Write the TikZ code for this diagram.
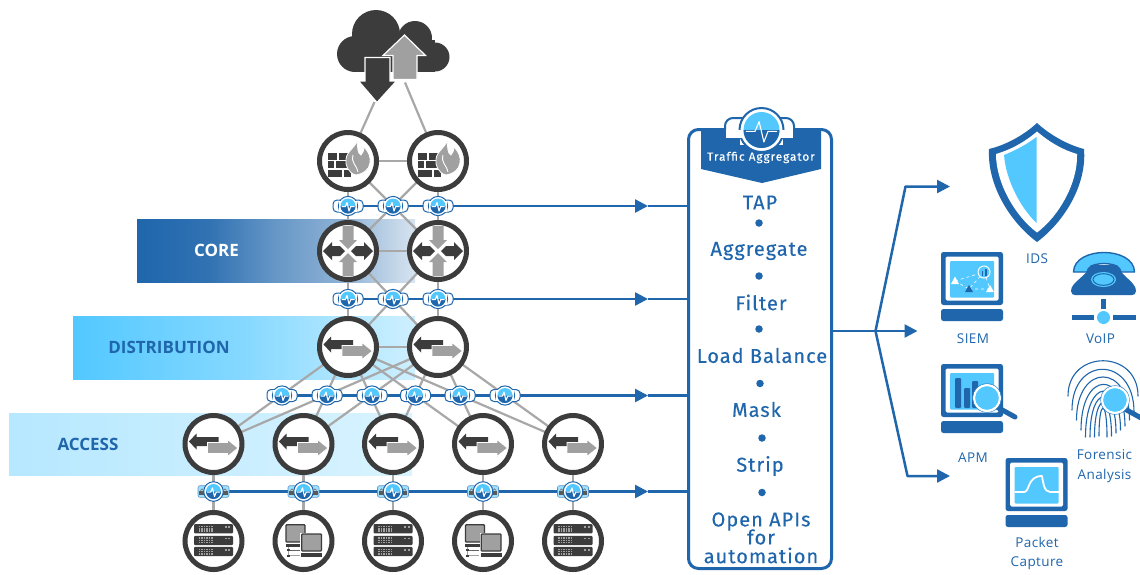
\documentclass[tikz,border=0pt]{standalone}
\usepackage{fontspec}
\usetikzlibrary{arrows.meta,backgrounds}
\newfontfamily\boxfont[LetterSpace=5,FakeBold=0.25]{Fira Sans}
\newfontfamily\hdrfont[LetterSpace=8,FakeBold=0.3]{Fira Sans}
\newfontfamily\lblfont[LetterSpace=3]{Open Sans}
\newfontfamily\tierfont{Open Sans}
\definecolor{ib}{HTML}{1F66AC}
\definecolor{il}{HTML}{52C8FF}
\definecolor{idk}{HTML}{3C3C3C}
\definecolor{igr}{HTML}{A0A0A0}
\definecolor{iln}{HTML}{A8A8A8}
\pgfdeclarehorizontalshading{coreband}{100bp}{color(0bp)=(ib); color(25bp)=(ib); color(38bp)=(ib!92!white); color(50bp)=(ib!68!white); color(62bp)=(ib!50!white); color(75bp)=(ib!18!white); color(100bp)=(ib!18!white)}
\pgfdeclarehorizontalshading{distband}{100bp}{color(0bp)=(il); color(25bp)=(il); color(50bp)=(il!70!white); color(75bp)=(il!28!white); color(100bp)=(il!28!white)}
\pgfdeclarehorizontalshading{accband}{100bp}{color(0bp)=(il!42!white); color(25bp)=(il!42!white); color(75bp)=(il!22!white); color(100bp)=(il!22!white)}
\pgfdeclarelayer{bands}\pgfdeclarelayer{edges}
\pgfsetlayers{bands,edges,main}
\tikzset{
  ring/.style={circle,draw=idk,fill=white,line width=5pt,minimum size=57pt,inner sep=0pt},
  tapbox/.style={circle,minimum size=18pt,inner sep=0pt},
  gline/.style={draw=iln,line width=2.2pt},
  gwide/.style={draw=iln,line width=2.8pt},
  bline/.style={draw=ib,line width=2.5pt},
  barrow/.style={bline,-{Triangle[length=13pt,width=13pt]}},
  steptext/.style={text=ib,font=\boxfont\fontsize{20}{21}\selectfont,inner sep=0pt,anchor=center},
  dotmark/.style={circle,fill=ib,minimum size=7.5pt,inner sep=0pt},
  lbl/.style={text=ib,font=\lblfont\fontsize{13.5}{14}\selectfont,inner sep=0pt,anchor=center},
  tier/.style={text=ib,font=\tierfont\bfseries\fontsize{17}{20}\selectfont,inner sep=0pt,anchor=center},
  swicon/.pic={
    \fill[idk] (-24.5,-2.5)--(-17,-10.5)--(-17,-7)--(5,-7)--(5,2)--(-17,2)--(-17,5.5)--cycle;
    \filldraw[igr,draw=white,line width=.8pt] (-6,-1.5)--(14,-1.5)--(14,-4.5)--(24.5,4)--(14,12.5)--(14,9.5)--(-6,9.5)--cycle;
  },
  rticon/.pic={
    \foreach \s in {1,-1}{
      \fill[igr] (0,\s*2)--(-9,\s*11)--(-5.5,\s*11)--(-5.5,\s*25)--(5.5,\s*25)--(5.5,\s*11)--(9,\s*11)--cycle;
      \fill[idk] (\s*3,0)--(\s*8,-5)--(\s*16,-5)--(\s*16,-9)--(\s*25,0)--(\s*16,9)--(\s*16,5)--(\s*8,5)--cycle;
    }
  },
  fwicon/.pic={
    \fill[idk] (-20,-8) rectangle (-11,-1.5);
    \fill[idk] (-9.5,-8) rectangle (2,-1.5);
    \fill[idk] (-20,0) rectangle (-14,7);
    \fill[idk] (-12.5,0) rectangle (3,7);
    \fill[idk] (-20,8.5) rectangle (-6,15.5);
    \fill[idk] (-4.5,8.5) rectangle (3,15.5);
    \filldraw[igr,draw=white,line width=.8pt] (8,14) .. controls (0,12) and (-3,4) .. (-2,-2) .. controls (-1,-10) and (6,-12) .. (9,-20) .. controls (10,-14) and (9,-8) .. (13,-6) .. controls (15,-8) and (16,-11) .. (16,-14) .. controls (21,-9) and (23,-3) .. (22,2) .. controls (21,9) and (15,13) .. (8,14) -- cycle;
    \draw[white,line width=.9pt] (5,-6) .. controls (3,2) and (8,3) .. (10,11);
  },
  svicon/.pic={
    \foreach \yy in {-12.2,-0.6,10.5}{
      \fill[idk,rounded corners=1pt] (-19.5,\yy-4.6) rectangle (19.5,\yy+4.6);
      \foreach \xx in {-14,-11.5,...,-1}{
        \fill[igr] (\xx-.6,\yy-3) rectangle (\xx+.6,\yy-1.6);
        \fill[igr] (\xx-.6,\yy-.7) rectangle (\xx+.6,\yy+.7);
        \fill[igr] (\xx-.6,\yy+1.6) rectangle (\xx+.6,\yy+3);
      }
      \fill[igr] (11,\yy-2.5) rectangle (13,\yy-1);
      \fill[igr] (14.5,\yy-2.5) rectangle (16.5,\yy-1);
    }
  },
  pcicon/.pic={
    \filldraw[fill=igr,draw=idk,line width=1.3pt,rounded corners=.8pt] (-17.5,-16.2) rectangle (1.5,1);
    \fill[idk] (-18,2.5) rectangle (-2,6);
    \draw[igr,line width=1pt] (-15.5,6)--(-15.5,14.5)--(-4,14.5);
    \draw[idk!60!igr,line width=1pt] (-15.5,9)--(-4,9);
    \fill[idk] (-17,8) rectangle (-14,10);
    \fill[idk] (-17,13.5) rectangle (-14,15.5);
    \fill[white] (-3.5,-8.5) rectangle (19.5,11.7);
    \filldraw[fill=igr,draw=idk,line width=1.3pt,rounded corners=.8pt] (-1.8,-7) rectangle (18,10);
    \fill[idk] (-2.5,11.7) rectangle (18.7,15.7);
  },
  corehalf/.pic={
    \fill[il] (0,0) circle[radius=7.5];
    \fill[ib] (-7.5,0) .. controls (-7.5,4.14) and (-4.14,7.5) .. (0,7.5) .. controls (4.14,7.5) and (7.5,4.14) .. (7.5,0) -- cycle;
    \draw[white,line width=1.1pt,line join=round] (-6.5,.6)--(-2.7,.6)--(-1,-3.5)--(1,5)--(2.7,.6)--(6.5,.6);
  },
  tapicon/.pic={
    \filldraw[fill=white,draw=ib,line width=1pt,rounded corners=4pt] (-15,-6) rectangle (15,6);
    \filldraw[fill=white,draw=ib,line width=1pt] (0,0) circle[radius=9.6];
    \fill[white] (-9,-5.5) rectangle (9,5.5);
    \pic {corehalf};
  },
  ltapicon/.pic={
    \filldraw[fill=il!55!white,draw=ib!70!white,line width=.6pt,rounded corners=2pt] (-15.5,-5.8) rectangle (15.5,5.8);
    \foreach \s in {-1,1}{
      \draw[idk!70!white,line width=.7pt] (\s*11.5-1.6,-1) arc[start angle=180,end angle=360,radius=1.6];
      \fill[idk!85!white] (\s*11.5-2.8,-1) rectangle (\s*11.5+2.8,3.2);
    }
    \filldraw[fill=white,draw=ib,line width=1pt] (0,0) circle[radius=9.8];
    \pic {corehalf};
  },
  screenbox/.pic={
    \fill[ib,rounded corners=2.5pt] (0,0) rectangle (62,53);
    \fill[white,rounded corners=1.5pt] (4.5,4.5) rectangle (57.5,48.5);
    \fill[il,rounded corners=1pt] (9,9) rectangle (53,45.5);
    \fill[ib,rounded corners=2.5pt] (0,57) rectangle (62,69);
  },
  lens/.pic={
    \draw[ib,line width=5pt,line cap=round] (8,8)--(28,19);
    \filldraw[fill=il,draw=white,line width=2.2pt] (0,0) circle[radius=13];
    \draw[ib!60!il,line width=.5pt] (0,0) circle[radius=14.4];
  },
}
\begin{document}
\begin{tikzpicture}[x=1pt,y=-1pt]
\useasboundingbox (0,0) rectangle (1140,574);

% bands
\begin{pgfonlayer}{bands}
\fill[white] (0,0) rectangle (1140,574);
\shade[shading=coreband] (137,219) rectangle (415,282);
\shade[shading=distband] (73,316) rectangle (415,379);
\shade[shading=accband] (9,413) rectangle (412,475);
\end{pgfonlayer}
\node[tier,text=white] (tcore) at (216.5,250) {CORE};
\node[tier] (tdist) at (169,347) {DISTRIBUTION};
\node[tier] (tacc) at (88,444) {ACCESS};

% cloud
\fill[idk] (355,54) circle[radius=18];
\fill[idk] (376,34) circle[radius=24];
\fill[idk] (415,38) circle[radius=17];
\fill[idk] (435,57) circle[radius=14.5];
\fill[idk] (355,40) rectangle (435,71.5);
\filldraw[fill=idk,draw=white,line width=1.2pt] (365,57.5)--(390,57.5)--(390,81)--(396.5,81)--(377,102.5)--(358.5,81)--(365,81)--cycle;
\filldraw[fill=igr,draw=white,line width=1.2pt] (393,79.5)--(417,79.5)--(417,55.5)--(425.5,55.5)--(404.5,35)--(383,55.5)--(393,55.5)--cycle;
\coordinate (cloudL) at (374.5,102);
\coordinate (cloudR) at (405,82.5);

% rings
\foreach \n/\x/\y/\ic in {fw1/348/161/fwicon,fw2/438/161/fwicon,rt1/348/251/rticon,rt2/438/251/rticon,ds1/348/347/swicon,ds2/438/347/swicon,ac1/213.5/444/swicon,ac2/303.5/444/swicon,ac3/393/444/swicon,ac4/483/444/swicon,ac5/573/444/swicon,sv1/213.5/541/svicon,sv2/303.5/541/pcicon,sv3/393/541/svicon,sv4/483/541/pcicon,sv5/573/541/svicon}{
  \node[ring] (\n) at (\x,\y) {};
  \pic at (\n) {\ic};
}

% taps
\foreach \n/\x/\y/\ic in {ta1/348/206/tapicon,ta2/393/206/tapicon,ta3/438/206/tapicon,tb1/348/299/tapicon,tb2/393/299/tapicon,tb3/438/299/tapicon,tc1/282/395.5/tapicon,tc2/327/395.5/tapicon,tc3/372/395.5/tapicon,tc4/415.5/395.5/tapicon,tc5/460/395.5/tapicon,tc6/505/395.5/tapicon,td1/213.5/491.5/ltapicon,td2/303.5/491.5/ltapicon,td3/393/491.5/ltapicon,td4/483/491.5/ltapicon,td5/573/491.5/ltapicon}{
  \node[tapbox] (\n) at (\x,\y) {};
  \pic at (\n) {\ic};
}

% aggregator
\node[draw=ib,fill=white,line width=3pt,rounded corners=10pt,minimum width=143pt,minimum height=439pt,inner sep=0pt] (agg) at (760,349) {};
\fill[ib] (701,130)--(821,130)--(821,169)--(762,183)--(701,169)--cycle;
\filldraw[fill=white,draw=ib,line width=2pt,rounded corners=8pt] (725,118) rectangle (794,146);
\filldraw[fill=white,draw=ib,line width=2pt] (761.5,130) circle[radius=22];
\fill[ib] (723,138) rectangle (740,147);
\fill[ib] (783,138) rectangle (796,147);
\fill[white] (726,130) rectangle (793,137.5);
\pic[scale=2.4] at (761.5,130) {corehalf};
\node[font=\hdrfont\fontsize{11.8}{12}\selectfont,text=white,inner sep=0pt] (hdr) at (761,157.5) {Traffic Aggregator};
\foreach \n/\x/\y/\t in {s1/760/202.5/TAP,s2/759/251/Aggregate,s3/761/302.5/Filter,s4/762/355.5/Load Balance,s5/756.5/409.5/Mask,s6/760/466/Strip,s7/761/521.5/Open APIs,s8/761/537/for,s9/761/555.5/automation}{
  \node[steptext] (\n) at (\x,\y) {\t};
}
\foreach \n/\x/\y in {d1/759/223,d2/759/276,d3/759/329,d4/760/383.5,d5/762/438,d6/762/492.5}{
  \node[dotmark] (\n) at (\x,\y) {};
}

% connectors
\begin{pgfonlayer}{edges}
\draw[gline] (cloudL)--(fw1);
\draw[gline] (cloudR)--(fw2);
\draw[gline] (fw1)--(fw2);
\draw[gline] (fw1.center)--(rt1.center);
\draw[gline] (fw2.center)--(rt2.center);
\draw[gline] (fw1.center)--(rt2.center);
\draw[gline] (fw2.center)--(rt1.center);
\draw[gwide] (rt1)--(rt2);
\draw[gline] (rt1.center)--(ds1.center);
\draw[gline] (rt2.center)--(ds2.center);
\draw[gline] (rt1.center)--(ds2.center);
\draw[gline] (rt2.center)--(ds1.center);
\draw[gwide] (ds1)--(ds2);
\foreach \d in {ds1,ds2}\foreach \a in {ac1,ac2,ac3,ac4,ac5}{
  \draw[gline] (\d.center)--(\a.center);
}
\foreach \i in {1,...,5}{
  \draw[gline] (ac\i.center)--(sv\i.center);
}
\coordinate (ha) at (648,206);
\coordinate (hb) at (648,299);
\coordinate (hc) at (648,395.5);
\coordinate (hd) at (648,491.5);
\draw[barrow] (ta1.center)--(ha);
\draw[barrow] (tb1.center)--(hb);
\draw[barrow] (tc1.center)--(hc);
\draw[barrow] (td1.center)--(hd);
\draw[bline] (ha)--(agg.west |- ha);
\draw[bline] (hb)--(agg.west |- hb);
\draw[bline] (hc)--(agg.west |- hc);
\draw[bline] (hd)--(agg.west |- hd);
\end{pgfonlayer}

\coordinate (hub) at (875.5,331);
\coordinate (tgt1) at (950,186.5);
\coordinate (tgt2) at (917.5,331);
\coordinate (tgt3) at (950,476);
\draw[bline] (agg.east |- hub)--(hub);
\draw[barrow,line join=round] (hub)--(905.5,186.5)--(tgt1);
\draw[barrow] (hub)--(tgt2);
\draw[barrow,line join=round] (hub)--(907.5,476)--(tgt3);

% shield
\fill[ib] (1037,123) .. controls (1024,135) and (1006,145) .. (989,149) .. controls (987,185) and (1010,222) .. (1037,242) .. controls (1064,222) and (1087,185) .. (1084,149) .. controls (1068,145) and (1050,135) .. (1037,123) -- cycle;
\fill[white] (1037,131.5) .. controls (1025,142) and (1010,150) .. (996,154) .. controls (996,183) and (1015,216) .. (1037,232.5) .. controls (1059,216) and (1078,183) .. (1077,154) .. controls (1063,150) and (1049,142) .. (1037,131.5) -- cycle;
\fill[il] (1036.5,137) .. controls (1026,145) and (1014,151) .. (1004,155) .. controls (1006,180) and (1020,207) .. (1036.5,223) -- cycle;
\node[lbl] (lids) at (1037,259) {IDS};

% SIEM
\pic at (941,252) {screenbox};
\draw[white,line width=.6pt,dashed] (955,281)--(984,272)--(969,289)--(955,281);
\draw[white,line width=.6pt,dashed] (984,272)--(990,289)--(969,289);
\filldraw[fill=il,draw=white,line width=1pt] (984,272) circle[radius=6];
\fill[ib] (981.5,276)--(981.5,271)--(983,271)--(983,276)--cycle;
\fill[ib] (984.5,276)--(984.5,268.5)--(986.5,268.5)--(986.5,276)--cycle;
\fill[white] (955,276.5)--(959,284)--(951,284)--cycle;
\fill[ib] (969,285)--(973,292)--(965,292)--cycle;
\fill[white] (990,285)--(994,292)--(986,292)--cycle;
\node[lbl] (lsiem) at (973,339) {SIEM};

% VoIP
\filldraw[fill=il,draw=ib,line width=1.4pt,line join=round] (1073.5,272) .. controls (1074,246) and (1134,246) .. (1134.5,272) -- (1121,272) .. controls (1120,267) and (1116,264) .. (1104,263.5) .. controls (1092,264) and (1088,267) .. (1087,272) -- cycle;
\fill[ib] (1091,265) -- (1117,265) .. controls (1122,277) and (1136,282) .. (1136,291) .. controls (1136,294) and (1134,295) .. (1132,295) -- (1075,295) .. controls (1073,295) and (1071,294) .. (1071,291) .. controls (1071,282) and (1086,277) .. (1091,265) -- cycle;
\fill[il] (1103.5,279.5) ellipse[x radius=12.5,y radius=7.5];
\draw[ib,line width=1pt] (1103.5,279.5) ellipse[x radius=10.5,y radius=5.8];
\fill[ib] (1101,299) rectangle (1106,309);
\fill[ib] (1072,315) rectangle (1094,320);
\fill[ib] (1113,315) rectangle (1136,320);
\fill[il] (1103.5,317.5) circle[radius=6.5];
\node[lbl] (lvoip) at (1100.5,339) {VoIP};

% APM
\pic at (941,364) {screenbox};
\fill[ib,rounded corners=1pt] (955,378) rectangle (961,408);
\fill[ib,rounded corners=1pt] (964,388) rectangle (970,408);
\fill[ib,rounded corners=1pt] (972,381) rectangle (978,408);
\pic at (987,398) {lens};
\node[lbl] (lapm) at (973,458) {APM};

% Forensic
\begin{scope}[ib,line width=1.1pt,line cap=round]
\foreach \k/\a/\b in {4/436/437,8.5/437/436,13/437/433,17.5/437/430,22/430/426,26.5/420/420,31/410/412,35/396/396}{
  \draw (1103-\k,\a) .. controls (1103-\k,405-1.6*\k) and (1103+\k,405-1.6*\k) .. (1103+\k,\b);
}
\end{scope}
\pic at (1115,400) {lens};
\node[lbl] (lfor) at (1104.5,455) {Forensic};
\node[lbl] (lana) at (1104.5,476) {Analysis};

% Packet capture
\pic at (1005.5,458) {screenbox};
\draw[white,line width=1.8pt,line join=round] (1014.5,492)--(1024,492) .. controls (1030,492) and (1027,476) .. (1042,476) .. controls (1043,482) and (1044,492) .. (1050,492) -- (1059,492);
\node[lbl] (lpac) at (1037,542) {Packet};
\node[lbl] (lcap) at (1037,563) {Capture};
\end{tikzpicture}
\end{document}
